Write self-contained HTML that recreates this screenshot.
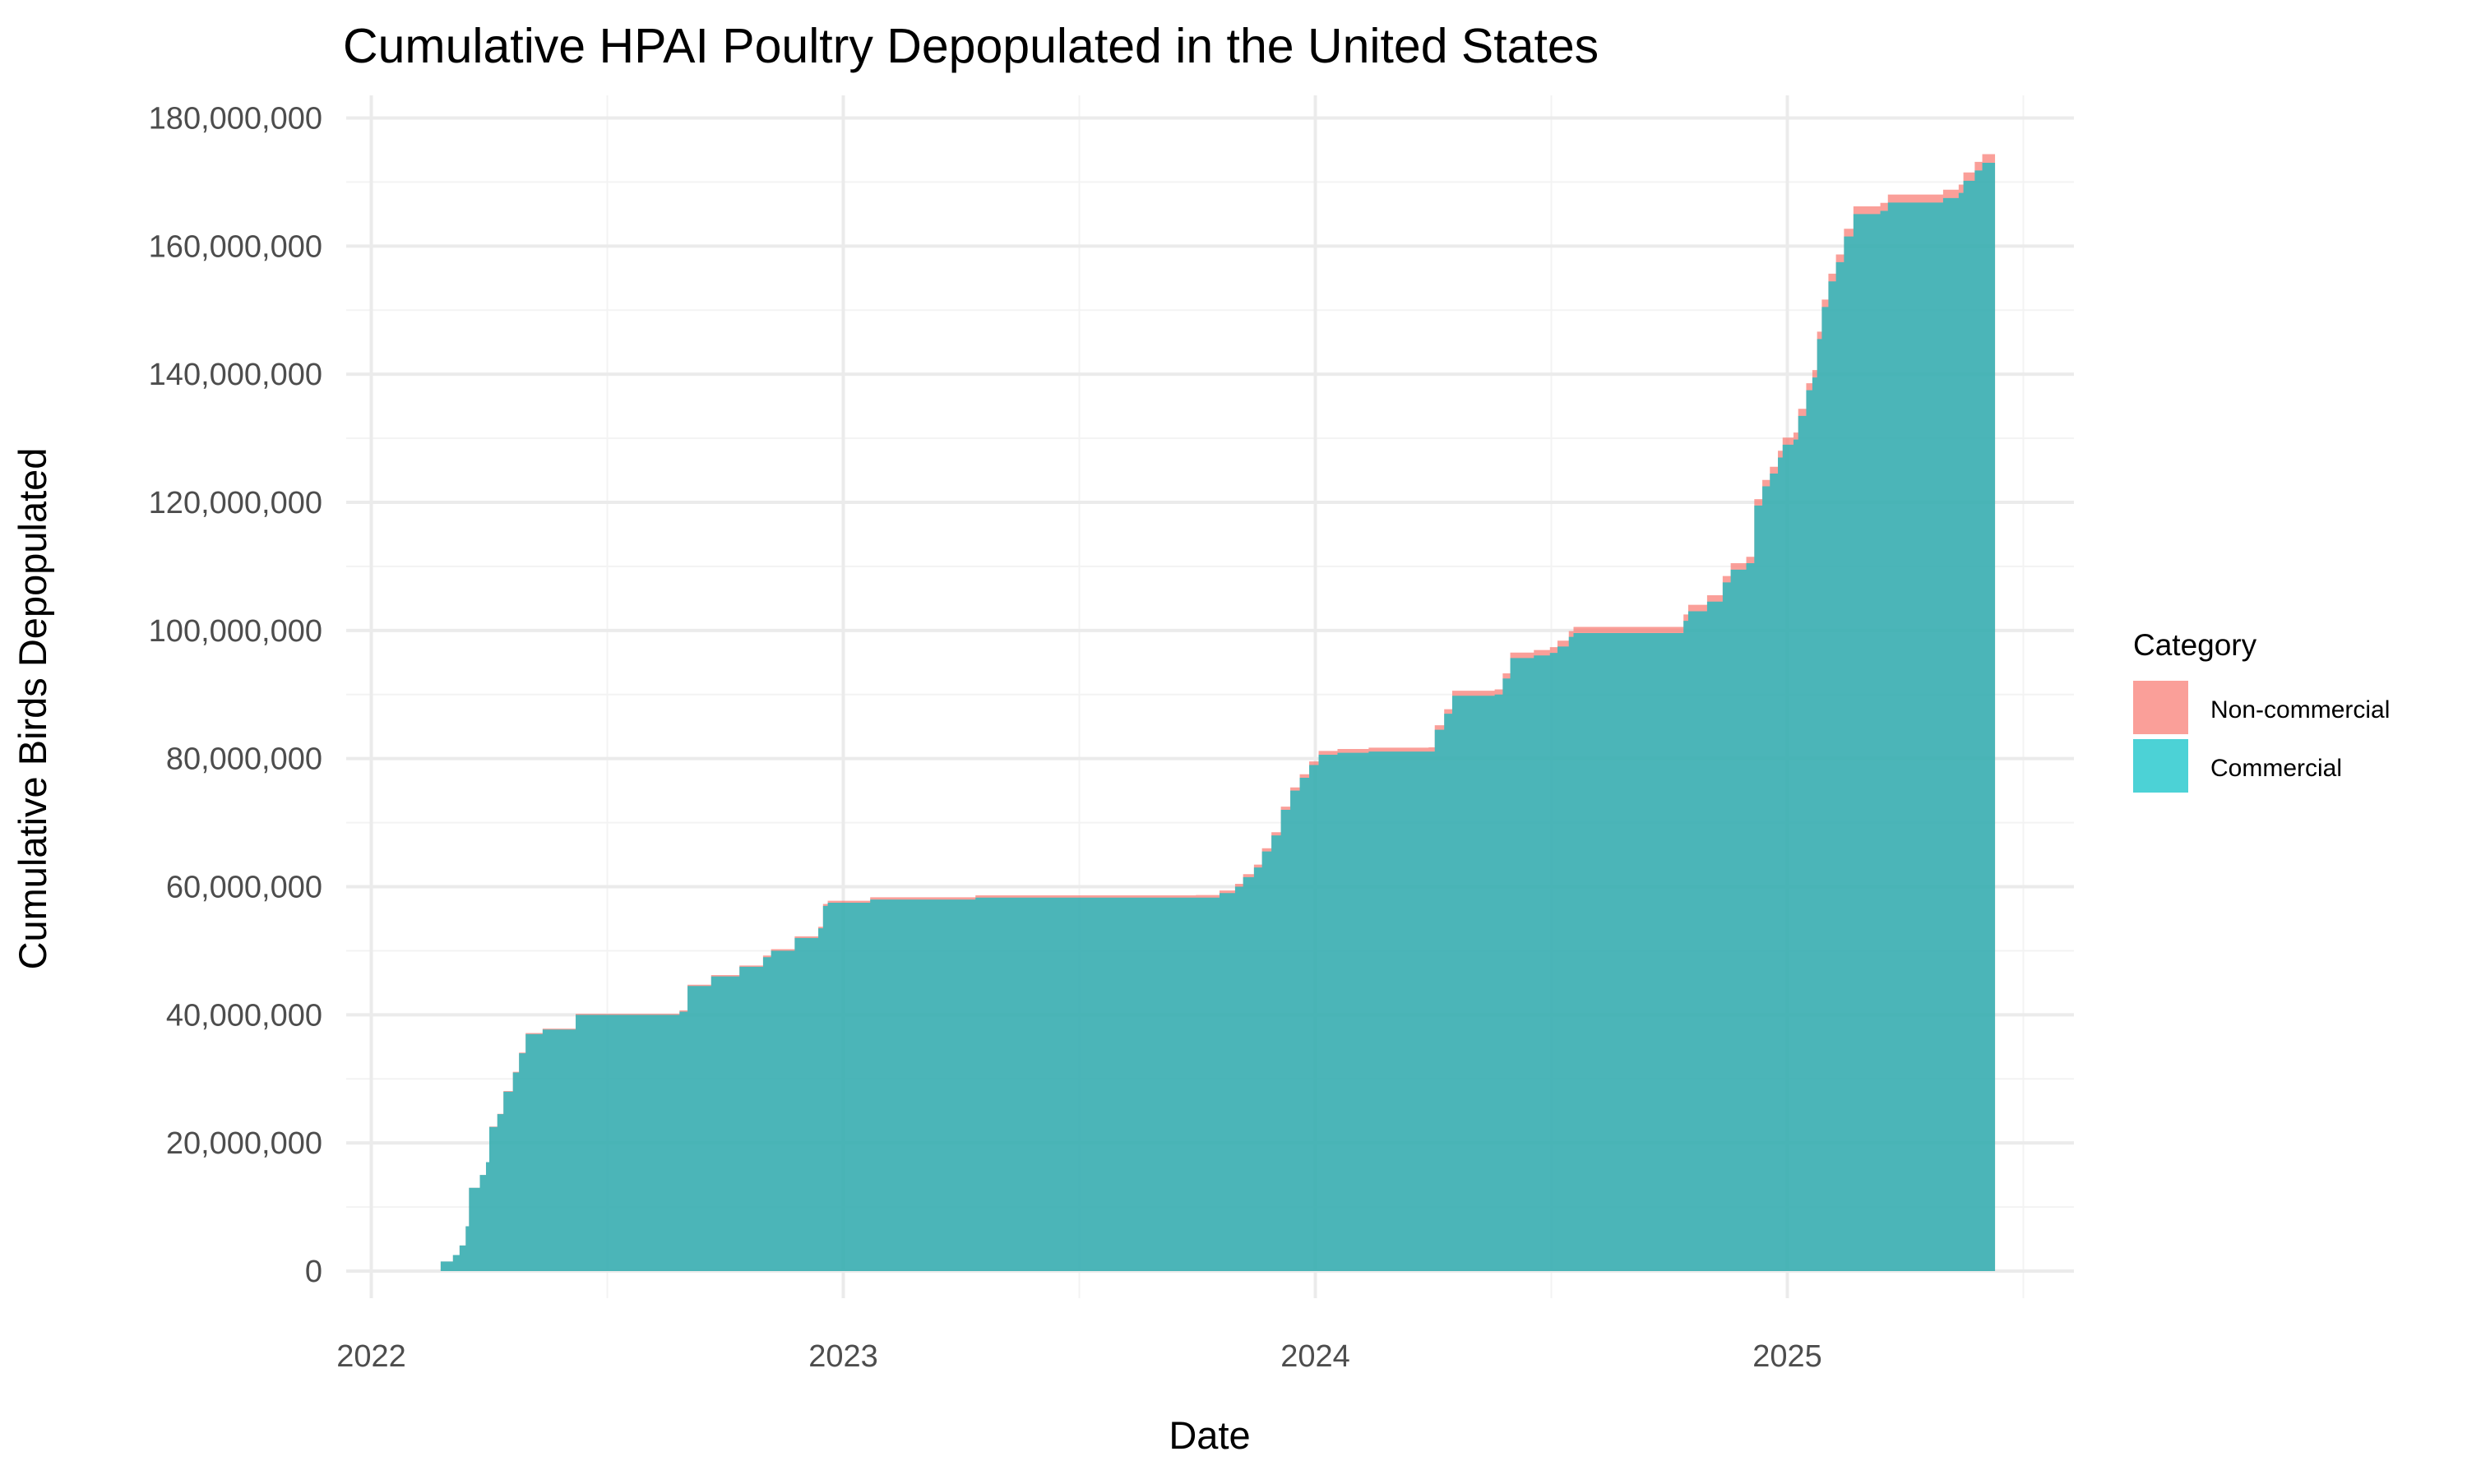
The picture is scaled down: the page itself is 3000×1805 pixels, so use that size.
<!DOCTYPE html>
<html><head><meta charset="utf-8"><style>
body{margin:0;background:#fff;}
svg text{font-family:"Liberation Sans",Arial,sans-serif;}
</style></head><body>
<svg id="chart" width="3000" height="1800" xmlns="http://www.w3.org/2000/svg">
<rect width="3000" height="1800" fill="#fff"/>
<g id="grid"></g>
<g id="areas"></g>
<g id="axes"></g>
<text x="417" y="76" font-size="59" fill="#000">Cumulative HPAI Poultry Depopulated in the United States</text>
<text x="1471" y="1762" font-size="47" text-anchor="middle" fill="#000">Date</text>
<text transform="translate(56,862) rotate(-90)" font-size="47" text-anchor="middle" fill="#000">Cumulative Birds Depopulated</text>
<g>
<text x="2594" y="797" font-size="37" fill="#000">Category</text>
<rect x="2594" y="828" width="67" height="65" fill="#F8766D" fill-opacity="0.7"/>
<text x="2688" y="873" font-size="30" fill="#000">Non-commercial</text>
<rect x="2594" y="899" width="67" height="65" fill="#00BFC4" fill-opacity="0.7"/>
<text x="2688" y="944" font-size="30" fill="#000">Commercial</text>
</g>
</svg>
<script>
const dates=[2022.107,2022.147,2022.173,2022.187,2022.2,2022.207,2022.23,2022.243,2022.25,2022.267,2022.28,2022.3,2022.313,2022.327,2022.363,2022.433,2022.653,2022.67,2022.72,2022.78,2022.83,2022.847,2022.897,2022.947,2022.957,2022.967,2023.057,2023.28,2023.747,2023.797,2023.83,2023.847,2023.87,2023.887,2023.907,2023.927,2023.947,2023.967,2023.987,2024.007,2024.047,2024.113,2024.24,2024.253,2024.273,2024.29,2024.38,2024.397,2024.413,2024.463,2024.497,2024.513,2024.537,2024.547,2024.763,2024.78,2024.79,2024.83,2024.863,2024.88,2024.913,2024.93,2024.947,2024.963,2024.98,2024.99,2025.013,2025.023,2025.04,2025.053,2025.063,2025.073,2025.087,2025.103,2025.12,2025.14,2025.197,2025.213,2025.33,2025.363,2025.373,2025.397,2025.413,2025.44];
const commercial=[0,1.5,2.5,4,7,13,15,17,22.5,24.5,28,31,34,37,37.7,40,40.5,44.5,46,47.5,49,50,52,53.5,57,57.5,58,58.3,58.3,59,60,61.5,63,65.5,68,72,75,77,79,80.6,80.9,81.1,81.1,84.5,87,89.8,90,92.5,95.7,96.1,96.5,97.5,99,99.6,99.6,101.5,103,104.5,107.5,109.5,110.5,119.5,122.5,124.5,127,129,129.8,133.5,137.5,139.5,145.5,150.5,154.5,157.5,161.5,165,165.5,166.8,167.5,168.3,170.2,171.8,173,173.2];
const noncommercial=[0,0,0,0,0,0,0,0,0.05,0.05,0.1,0.1,0.1,0.15,0.15,0.15,0.2,0.2,0.2,0.2,0.25,0.25,0.25,0.25,0.3,0.3,0.35,0.35,0.4,0.4,0.45,0.45,0.45,0.5,0.5,0.5,0.5,0.55,0.55,0.6,0.6,0.6,0.65,0.7,0.7,0.8,0.8,0.8,0.85,0.85,0.9,0.9,0.9,0.95,0.95,1,1,1,1,1,1,1,1,1.05,1.05,1.1,1.1,1.1,1.1,1.15,1.15,1.15,1.2,1.2,1.2,1.2,1.25,1.25,1.3,1.3,1.3,1.35,1.35,1.35];
const yTicks=[0,20,40,60,80,100,120,140,160,180];
const xTicks=[2022,2023,2024,2025];
const NS='http://www.w3.org/2000/svg';
const L=421,R=2522,T=116,B=1579;
const xS=d=>451.5+(d-2022)*574;
const yS=v=>1546-v*(1546-143.5)/180;
function mk(tag,attrs,parent){const e=document.createElementNS(NS,tag);for(const k in attrs)e.setAttribute(k,attrs[k]);parent.appendChild(e);return e;}
const grid=document.getElementById('grid'),areas=document.getElementById('areas'),axes=document.getElementById('axes');
for(let v=10;v<=190;v+=20){if(yS(v)<T)continue;const l=mk('line',{x1:L,x2:R,y1:yS(v),y2:yS(v),stroke:'#F3F3F3','stroke-width':2},grid);

}
for(let d=2021.5;d<=2025.5;d+=1){if(xS(d)<L)continue;const l=mk('line',{x1:xS(d),x2:xS(d),y1:T,y2:B,stroke:'#F3F3F3','stroke-width':2},grid);

}
yTicks.forEach(v=>{const l=mk('line',{x1:L,x2:R,y1:yS(v),y2:yS(v),stroke:'#EBEBEB','stroke-width':4},grid);


const t=mk('text',{x:392,y:yS(v)+13,'font-size':38,'text-anchor':'end',fill:'#4D4D4D'},axes);


t.textContent=(v*1e6).toLocaleString('en-US');});
xTicks.forEach(d=>{const l=mk('line',{x1:xS(d),x2:xS(d),y1:T,y2:B,stroke:'#EBEBEB','stroke-width':4},grid);


const t=mk('text',{x:xS(d),y:1662,'font-size':38,'text-anchor':'middle',fill:'#4D4D4D'},axes);


t.textContent=d;});
function stepPath(vals){let p='M'+xS(dates[0])+','+yS(0);for(let i=0;i<dates.length;i++){if(i>0)p+=' L'+xS(dates[i])+','+yS(vals[i-1]);p+=' L'+xS(dates[i])+','+yS(vals[i]);}p+=' L'+xS(dates[dates.length-1])+','+yS(0)+'Z';return p;}
const tot=commercial.map((c,i)=>c+noncommercial[i]);
const a1=mk('path',{d:stepPath(tot),fill:'#F8766D','fill-opacity':0.7},areas);


const a2=mk('path',{d:stepPath(commercial),fill:'#00BFC4','fill-opacity':0.7},areas);


</script>
</body></html>
